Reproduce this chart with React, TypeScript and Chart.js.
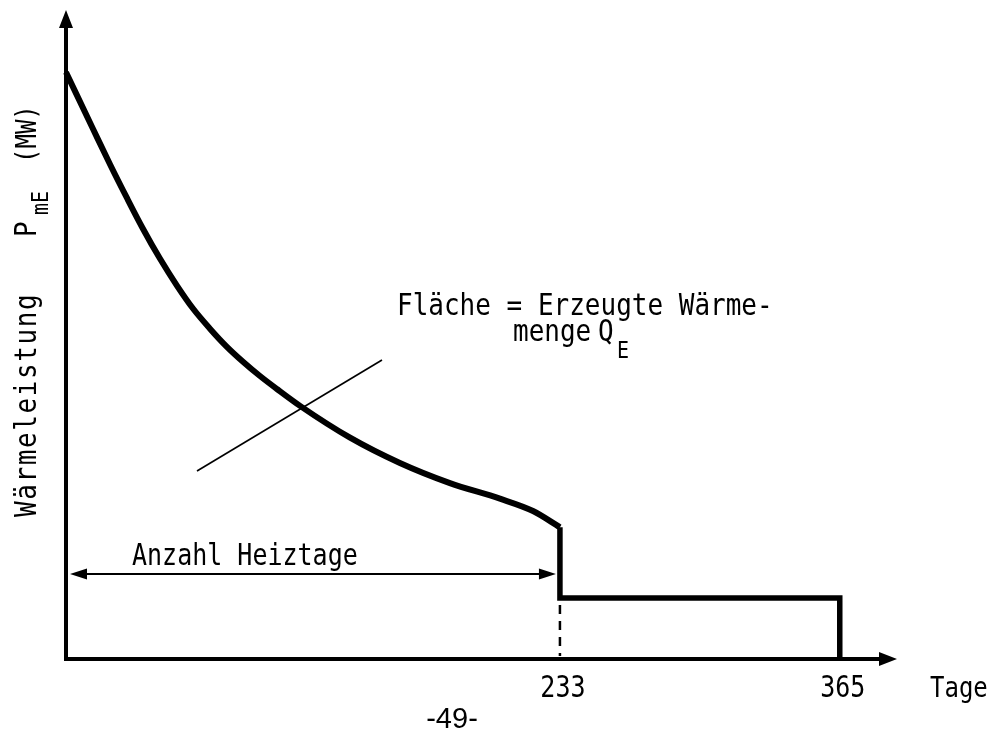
import React, { useEffect, useRef } from "react";
import { Chart, registerables } from "chart.js";

Chart.register(...registerables);

// Load duration curve (y in relative units, 0..100)
const curveDays = [0, 12.7, 20.8, 28.8, 36.3, 44.3, 52.4, 59.9, 67.9, 75.9, 83.5, 91.5, 99.5, 110.4, 134, 157.5, 181.1, 204.7, 220.3, 233];
const curvePower = [90.4, 81.7, 76.2, 71.0, 66.3, 61.7, 57.5, 54.0, 50.9, 48.1, 45.8, 43.6, 41.6, 39.0, 34.1, 30.2, 27.1, 24.7, 22.8, 20.3];
const stepDays = [233, 233, 365, 365];
const stepPower = [20.3, 9.4, 9.4, 0];
const xTickValues = [233, 365];
const xTickLabels = ["233", "365"];
const heatDays = 233;
const baseLevel = 9.4;

const MONO = '"DejaVu Sans Mono", "Liberation Mono", monospace';
const SY = 1.18; // typewriter glyphs are taller than DejaVu Sans Mono

function txt(ctx: CanvasRenderingContext2D, s: string, x: number, y: number, size: number, align: CanvasTextAlign = "left") {
  ctx.save();
  ctx.translate(x, y);
  ctx.scale(1, SY);
  ctx.font = `${size}px ${MONO}`;
  ctx.textAlign = align;
  ctx.textBaseline = "alphabetic";
  ctx.fillText(s, 0, 0);
  ctx.restore();
}

const drawPlugin = {
  id: "drawing",
  afterDatasetsDraw(chart: any) {
    const ctx: CanvasRenderingContext2D = chart.ctx;
    const { left, top, right, bottom } = chart.chartArea;
    const xs = chart.scales.x;
    const ys = chart.scales.y;
    ctx.save();
    ctx.strokeStyle = "#000";
    ctx.fillStyle = "#000";
    ctx.lineCap = "butt";

    // Axes
    ctx.lineWidth = 4;
    ctx.beginPath();
    ctx.moveTo(left, bottom + 2);
    ctx.lineTo(left, top + 14);
    ctx.moveTo(left - 2, bottom);
    ctx.lineTo(right - 14, bottom);
    ctx.stroke();
    ctx.beginPath();
    ctx.moveTo(left, top);
    ctx.lineTo(left - 7, top + 18);
    ctx.lineTo(left + 7, top + 18);
    ctx.closePath();
    ctx.moveTo(right, bottom);
    ctx.lineTo(right - 18, bottom - 7);
    ctx.lineTo(right - 18, bottom + 7);
    ctx.closePath();
    ctx.fill();

    // Dashed marker at end of heating days
    const xh = xs.getPixelForValue(heatDays);
    ctx.lineWidth = 2.5;
    ctx.setLineDash([9, 7]);
    ctx.beginPath();
    ctx.moveTo(xh, ys.getPixelForValue(baseLevel) + 7);
    ctx.lineTo(xh, bottom - 3);
    ctx.stroke();
    ctx.setLineDash([]);

    // Double arrow "Anzahl Heiztage"
    const ya = bottom - 85;
    const xa0 = left + 4;
    const xa1 = xh - 4;
    ctx.lineWidth = 2.2;
    ctx.beginPath();
    ctx.moveTo(xa0 + 14, ya);
    ctx.lineTo(xa1 - 14, ya);
    ctx.stroke();
    ctx.beginPath();
    ctx.moveTo(xa0, ya);
    ctx.lineTo(xa0 + 17, ya - 5.5);
    ctx.lineTo(xa0 + 17, ya + 5.5);
    ctx.closePath();
    ctx.moveTo(xa1, ya);
    ctx.lineTo(xa1 - 17, ya - 5.5);
    ctx.lineTo(xa1 - 17, ya + 5.5);
    ctx.closePath();
    ctx.fill();

    // Pointer line for area label
    ctx.lineWidth = 1.6;
    ctx.beginPath();
    ctx.moveTo(197, 471);
    ctx.lineTo(382, 360);
    ctx.stroke();

    // Texts
    txt(ctx, "Anzahl Heiztage", 132, ya - 9, 25);
    xTickValues.forEach((v, i) => {
      txt(ctx, xTickLabels[i], xs.getPixelForValue(v) + 3, bottom + 38, 25, "center");
    });
    txt(ctx, "Tage", 930, bottom + 38, 24);

    txt(ctx, "Fläche = Erzeugte Wärme-", 397, 315, 26);
    txt(ctx, "menge", 513, 341, 26);
    txt(ctx, "Q", 598, 341, 26);
    txt(ctx, "E", 617, 358, 20);

    // Y axis label (rotated)
    ctx.save();
    ctx.translate(36, 517);
    ctx.rotate(-Math.PI / 2);
    (ctx as any).letterSpacing = "1.6px";
    txt(ctx, "Wärmeleistung", 0, 0, 26);
    (ctx as any).letterSpacing = "0px";
    txt(ctx, "P", 280, 0, 26);
    txt(ctx, "mE", 302, 12, 20);
    txt(ctx, "(MW)", 354, 0, 24);
    ctx.restore();

    // Page number
    ctx.textAlign = "center";
    ctx.textBaseline = "alphabetic";
    ctx.font = `29px "Liberation Sans", Arial, sans-serif`;
    ctx.fillText("-49-", 452, 728);

    ctx.restore();
  },
};

export default function App() {
  const ref = useRef<HTMLCanvasElement | null>(null);
  useEffect(() => {
    if (!ref.current) return;
    const chart = new Chart(ref.current, {
      type: "scatter",
      data: {
        datasets: [
          {
            label: "Wärmeleistung",
            data: curveDays.map((d, i) => ({ x: d, y: curvePower[i] })),
            showLine: true,
            borderColor: "#000",
            borderWidth: 6,
            pointRadius: 0,
            cubicInterpolationMode: "monotone",
            clip: false,
          },
          {
            label: "Grundlast",
            data: stepDays.map((d, i) => ({ x: d, y: stepPower[i] })),
            showLine: true,
            borderColor: "#000",
            borderWidth: 5.5,
            pointRadius: 0,
            tension: 0,
            borderJoinStyle: "miter",
            clip: false,
          },
        ],
      },
      options: {
        animation: false,
        responsive: true,
        maintainAspectRatio: false,
        layout: { padding: { left: 66, top: 10, right: 97, bottom: 78 } },
        plugins: { legend: { display: false }, tooltip: { enabled: false } },
        scales: {
          x: { type: "linear", min: 0, max: 392, display: false },
          y: { type: "linear", min: 0, max: 100, display: false },
        },
      },
      plugins: [drawPlugin],
    } as any);
    return () => chart.destroy();
  }, []);
  return (
    <div style={{ position: "absolute", left: 0, top: 0, width: 994, height: 737, background: "#fff" }}>
      <canvas ref={ref} />
    </div>
  );
}
